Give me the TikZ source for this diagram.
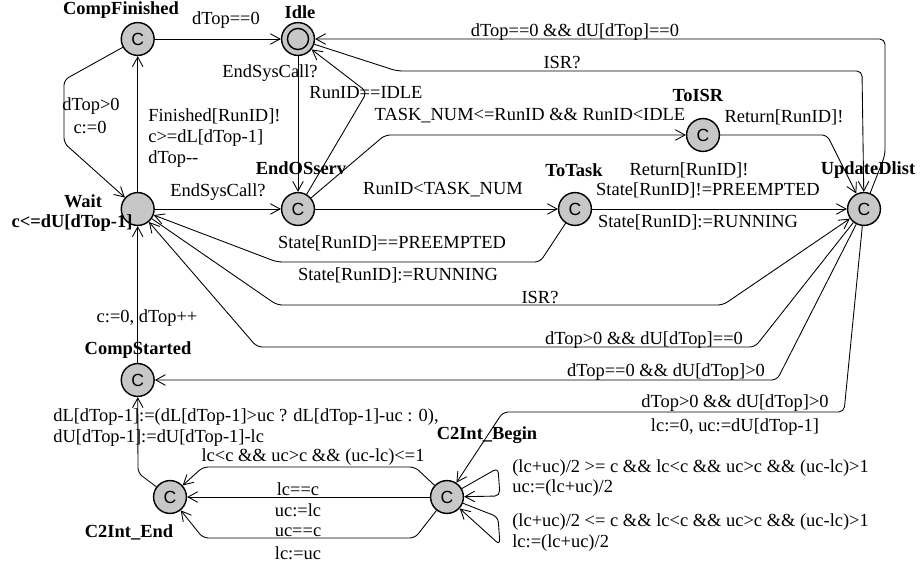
\documentclass[tikz,border=0pt]{standalone}
\usepackage{fontspec}
\setmainfont{Liberation Serif}
\setsansfont{Liberation Sans}
\usetikzlibrary{arrows.meta}

\begin{document}
\begin{tikzpicture}[x=0.02cm,y=-0.02cm,
>={Straight Barb[length=5.5pt,width=6pt]},
every node/.style={font=\fontsize{10.5}{12}\selectfont,inner sep=0pt},
loc/.style={circle,draw,line width=0.8pt,fill=black!22,minimum size=18.7pt,inner sep=0pt},
comm/.style={loc,font=\fontsize{10}{12}\sffamily},
locname/.style={font=\fontsize{10.5}{12}\selectfont\bfseries},
edge/.style={->,line width=0.5pt,rounded corners=3pt}]

\useasboundingbox (0,0) rectangle (920,567);

% locations
\node[comm] (CompFinished) at (137.7,39) {C};
\node[loc]  (Idle)         at (298,39)   {};
\draw[line width=0.8pt] (Idle.center) circle (6pt);
\node[loc]  (Wait)         at (137.7,209) {};
\node[comm] (EndOSserv)    at (298,209)  {C};
\node[comm] (ToTask)       at (575,209)  {C};
\node[comm] (ToISR)        at (703,135)  {C};
\node[comm] (UpdateDlist)  at (864,209)  {C};
\node[comm] (CompStarted)  at (137.7,380) {C};
\node[comm] (C2IntBegin)   at (447,497)  {C};
\node[comm] (C2IntEnd)     at (170,497)  {C};

% location names
\node[locname] (nCompFinished) at (121,10)  {CompFinished};
\node[locname] (nIdle)         at (300,12)  {Idle};
\node[locname] (nWait)         at (83,201)  {Wait};
\node[locname] (nWaitInv)      at (72,223)  {c<=dU[dTop-1]};
\node[locname] (nEndOSserv)    at (301,168) {EndOSserv};
\node[locname] (nToTask)       at (574,170) {ToTask};
\node[locname] (nToISR)        at (698,95)  {ToISR};
\node[locname] (nUpdateDlist)  at (868,170) {UpdateDlist};
\node[locname] (nCompStarted)  at (138,350) {CompStarted};
\node[locname] (nC2IntBegin)   at (487,435) {C2Int\_Begin};
\node[locname] (nC2IntEnd)     at (129,532) {C2Int\_End};

% edges
\draw[edge] (CompFinished) -- (Idle);
\draw[edge] (CompFinished) -- (64,80) -- (64,143) -- (Wait);
\draw[edge] (Wait) -- (CompFinished);
\draw[edge] (Wait) -- (EndOSserv);
\draw[edge] (Idle) -- (EndOSserv);
\draw[edge] (EndOSserv) -- (367,92) -- (Idle);
\draw[edge] (EndOSserv) -- (385,135) -- (ToISR);
\draw[edge] (EndOSserv) -- (ToTask);
\draw[edge] (ToTask) -- (UpdateDlist);
\draw[edge] (ToTask) -- (540,262) -- (277,262) -- (Wait);
\draw[edge] (ToISR) -- (827,135) -- (UpdateDlist);
\draw[edge] (Idle) -- (397,71) -- (862,71) -- (UpdateDlist);
\draw[edge] (UpdateDlist) -- (885,155) -- (885,39) -- (Idle);
\draw[edge] (Wait) -- (277,305) -- (723,305) -- (UpdateDlist);
\draw[edge] (UpdateDlist) -- (755,347) -- (257,347) -- (Wait);
\draw[edge] (UpdateDlist) -- (777,380) -- (CompStarted);
\draw[edge] (CompStarted) -- (Wait);
\draw[edge] (UpdateDlist) -- (844,412) -- (503,412) -- (C2IntBegin);
\draw[edge] (C2IntBegin) -- (498,468) -- (500,496) -- (C2IntBegin);
\draw[edge] (C2IntBegin) -- (498,517) -- (500,545) -- (C2IntBegin);
\draw[edge] (C2IntBegin) -- (415,467) -- (203,467) -- (C2IntEnd);
\draw[edge] (C2IntBegin) -- (C2IntEnd);
\draw[edge] (C2IntBegin) -- (415,538) -- (203,538) -- (C2IntEnd);
\draw[edge] (C2IntEnd) -- (138,473) -- (CompStarted);

% edge labels
\node (gFinIdle)   at (226,20)  {dTop==0};
\node[anchor=west] (gFinWait) at (62,106) {dTop>0};
\node (uFinWait)   at (90,127)  {c:=0};
\node[anchor=west] (sWaitFin) at (148,116) {Finished[RunID]!};
\node[anchor=west] (gWaitFin) at (148,138) {c>=dL[dTop-1]};
\node[anchor=west] (uWaitFin) at (148,159) {dTop-{}-};
\node (sIdleEnd)   at (270,73)  {EndSysCall?};
\node (gEndIdle)   at (366,93)  {RunID==IDLE};
\node (gEndIsr)    at (530,116) {TASK\_NUM<=RunID \&\& RunID<IDLE};
\node (gUpdIdle)   at (575,32)  {dTop==0 \&\& dU[dTop]==0};
\node (sIdleUpd)   at (562,63)  {ISR?};
\node (sIsrUpd)    at (784,117) {Return[RunID]!};
\node (sWaitEnd)   at (218,192) {EndSysCall?};
\node (gEndTask)   at (443,190) {RunID<TASK\_NUM};
\node (sTaskUpd)   at (689,170) {Return[RunID]!};
\node (gTaskUpd)   at (708,190) {State[RunID]!=PREEMPTED};
\node (uTaskUpd)   at (698,222) {State[RunID]:=RUNNING};
\node (gTaskWait)  at (392,243) {State[RunID]==PREEMPTED};
\node (uTaskWait)  at (398,275) {State[RunID]:=RUNNING};
\node (sWaitUpd)   at (540,298) {ISR?};
\node (uStartWait) at (147,318) {c:=0, dTop++};
\node (gUpdWait)   at (644,340) {dTop>0 \&\& dU[dTop]==0};
\node (gUpdStart)  at (666,372) {dTop==0 \&\& dU[dTop]>0};
\node (gUpdBegin)  at (735,403) {dTop>0 \&\& dU[dTop]>0};
\node (uUpdBegin)  at (735,427) {lc:=0, uc:=dU[dTop-1]};
\node[anchor=west] (uEndStartA) at (53,417) {dL[dTop-1]:=(dL[dTop-1]>uc ? dL[dTop-1]-uc : 0),};
\node[anchor=west] (uEndStartB) at (53,438) {dU[dTop-1]:=dU[dTop-1]-lc};
\node (gBeginEndA) at (313,457) {lc<c \&\& uc>c \&\& (uc-lc)<=1};
\node (gBeginEndB) at (298,489) {lc==c};
\node (uBeginEndB) at (298,510) {uc:=lc};
\node (gBeginEndC) at (298,532) {uc==c};
\node (uBeginEndC) at (298,553) {lc:=uc};
\node[anchor=west] (gLoopUp)  at (512,468) {(lc+uc)/2 >= c \&\& lc<c \&\& uc>c \&\& (uc-lc)>1};
\node[anchor=west] (uLoopUp)  at (512,488) {uc:=(lc+uc)/2};
\node[anchor=west] (gLoopLow) at (512,522) {(lc+uc)/2 <= c \&\& lc<c \&\& uc>c \&\& (uc-lc)>1};
\node[anchor=west] (uLoopLow) at (512,543) {lc:=(lc+uc)/2};

\end{tikzpicture}
\end{document}
